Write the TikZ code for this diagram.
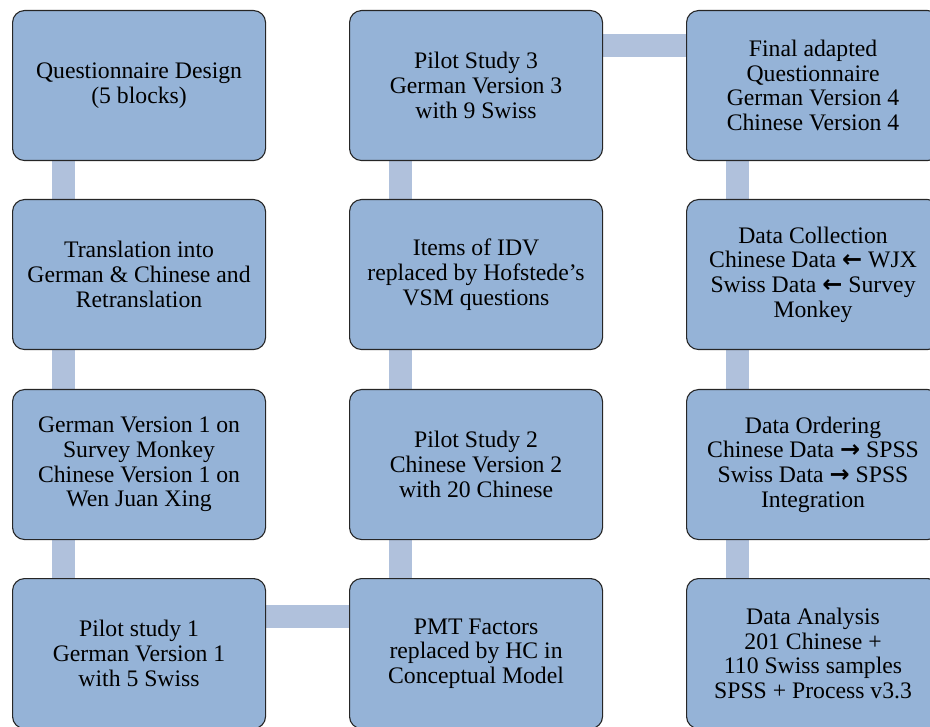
\documentclass[tikz,border=0pt]{standalone}
\usepackage{fontspec}
\setmainfont{Liberation Serif}
\newfontfamily\arrowfont{DejaVu Sans}
\usetikzlibrary{calc,backgrounds}

\definecolor{boxfill}{HTML}{95B3D7}
\definecolor{linkfill}{HTML}{B0C1DC}
\definecolor{boxline}{HTML}{262626}

\newcommand{\larr}{{\arrowfont\bfseries\fontsize{24}{24.7}\selectfont ←}}
\newcommand{\rarr}{{\arrowfont\bfseries\fontsize{24}{24.7}\selectfont →}}

\tikzset{
  stagebox/.style={draw=boxline, line width=1.1pt, fill=boxfill,
    rounded corners=12pt, minimum width=253pt, minimum height=150pt,
    inner sep=0pt, anchor=north west, align=center,
    font=\rmfamily\fontsize{23.7}{24.7}\selectfont},
  link/.style={draw=linkfill, line width=23pt}
}

\begin{document}
\begin{tikzpicture}[x=1pt,y=-1pt]
\useasboundingbox (0,0) rectangle (930,727);
\clip (0,0) rectangle (930,727);

% first column
\node[stagebox] (q)  at (12,10)  {Questionnaire Design\\(5 blocks)};
\node[stagebox] (tr) at (12,199) {Translation into\\German \& Chinese and\\Retranslation};
\node[stagebox] (v1) at (12,389) {German Version 1 on\\Survey Monkey\\Chinese Version 1 on\\Wen Juan Xing};
\node[stagebox] (p1) at (12,578) {Pilot study 1\\German Version 1\\with 5 Swiss};

% second column
\node[stagebox] (p3)  at (349,10)  {Pilot Study 3\\German Version 3\\with 9 Swiss};
\node[stagebox] (idv) at (349,199) {Items of IDV\\replaced by Hofstede’s\\VSM questions};
\node[stagebox] (p2)  at (349,389) {Pilot Study 2\\Chinese Version 2\\with 20 Chinese};
\node[stagebox] (pmt) at (349,578) {PMT Factors\\replaced by HC in\\Conceptual Model};

% third column
\node[stagebox] (fin) at (686,10)  {Final adapted\\Questionnaire\\German Version 4\\Chinese Version 4};
\node[stagebox] (col) at (686,199) {Data Collection\\Chinese Data \larr{} WJX\\Swiss Data \larr{} Survey\\Monkey};
\node[stagebox] (ord) at (686,389) {Data Ordering\\Chinese Data \rarr{} SPSS\\Swiss Data \rarr{} SPSS\\Integration};
\node[stagebox] (ana) at (686,578) {Data Analysis\\201 Chinese +\\110 Swiss samples\\SPSS + Process v3.3};

% connecting bars behind the boxes (upper box / lower box)
\begin{pgfonlayer}{background}
  \foreach \a/\b in {q/tr, tr/v1, v1/p1, p3/idv, idv/p2, p2/pmt, fin/col, col/ord, ord/ana}
    \draw[link] ($(\a.south west)+(51.5,0)$) -- ($(\b.north west)+(51.5,0)$);
  \draw[link] ($(p1.north east)+(0,38)$) -- ($(pmt.north west)+(0,38)$);
  \draw[link] ($(p3.north east)+(0,36)$) -- ($(fin.north west)+(0,36)$);
\end{pgfonlayer}
\end{tikzpicture}
\end{document}
